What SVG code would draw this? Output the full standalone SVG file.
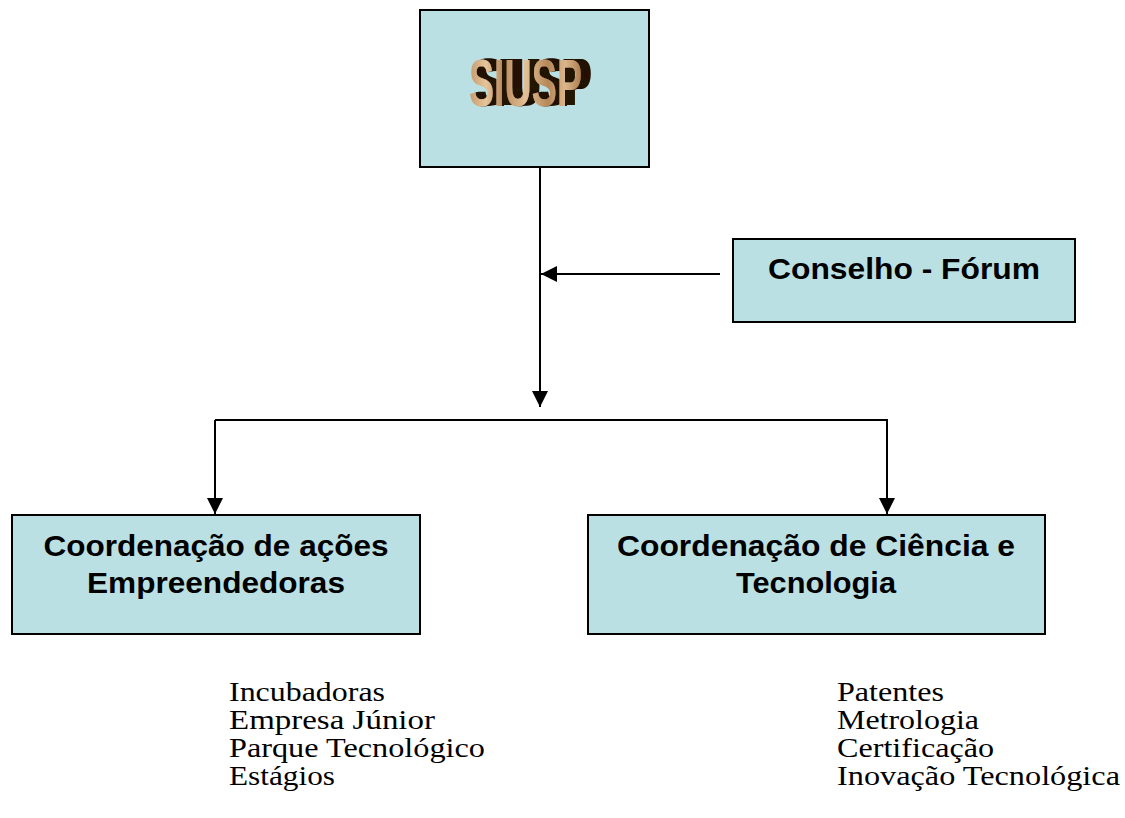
<svg xmlns="http://www.w3.org/2000/svg" width="1125" height="818" viewBox="0 0 1125 818">
<style>
.box{fill:#bbe0e3;stroke:#000;stroke-width:2}
.bt{font-family:"Liberation Sans",Arial,sans-serif;font-weight:bold;font-size:30px;fill:#000;text-anchor:middle}
.lt{font-family:"Liberation Serif","Times New Roman",serif;font-size:27px;fill:#000}
.conn{stroke:#000;stroke-width:2;fill:none}
</style>
<defs>
<marker id="ah" viewBox="0 0 10 10" refX="10" refY="5" markerWidth="16" markerHeight="16" markerUnits="userSpaceOnUse" orient="auto">
<path d="M0,0 L10,5 L0,10 z" fill="#000"/>
</marker>
<linearGradient id="gold" x1="0" y1="0" x2="1" y2="0">
<stop offset="0" stop-color="#c59a6c"/>
<stop offset="0.15" stop-color="#e6c49a"/>
<stop offset="0.3" stop-color="#b98b5e"/>
<stop offset="0.5" stop-color="#e2c096"/>
<stop offset="0.7" stop-color="#b68758"/>
<stop offset="0.85" stop-color="#dcb78c"/>
<stop offset="1" stop-color="#a87a4c"/>
</linearGradient>
<filter id="extrude" x="-10%" y="-20%" width="130%" height="140%">
<feFlood flood-color="#241404" result="c"/>
<feComposite in="c" in2="SourceAlpha" operator="in" result="sh"/>
<feOffset in="sh" dx="2" dy="-0.3" result="s1"/>
<feOffset in="sh" dx="4" dy="-0.6" result="s2"/>
<feOffset in="sh" dx="6" dy="-0.9" result="s3"/>
<feOffset in="sh" dx="8" dy="-1.2" result="s4"/>
<feOffset in="sh" dx="10" dy="-1.5" result="s5"/>
<feMerge>
<feMergeNode in="s5"/><feMergeNode in="s4"/><feMergeNode in="s3"/><feMergeNode in="s2"/><feMergeNode in="s1"/>
<feMergeNode in="SourceGraphic"/>
</feMerge>
</filter>
</defs>
<rect width="1125" height="818" fill="#fff"/>
<g id="connectors">
<line class="conn" x1="540" y1="167" x2="540" y2="407" marker-end="url(#ah)"/>
<line class="conn" x1="720" y1="274" x2="541" y2="274" marker-end="url(#ah)"/>
<polyline class="conn" points="215,420 887,420 887,514" marker-end="url(#ah)"/>
<line class="conn" x1="215" y1="420" x2="215" y2="514" marker-end="url(#ah)"/>
</g>
<g id="siusp">
<rect class="box" x="420" y="10" width="229" height="157"/>
<text x="469" y="106" font-family="'Liberation Sans Narrow','Liberation Sans',Arial,sans-serif" font-weight="bold" font-size="66" fill="url(#gold)" textLength="113" lengthAdjust="spacingAndGlyphs" filter="url(#extrude)">SIUSP</text>
</g>
<g id="conselho">
<rect class="box" x="733" y="239" width="342" height="83"/>
<text class="bt" x="904" y="279" textLength="272" lengthAdjust="spacingAndGlyphs">Conselho - Fórum</text>
</g>
<g id="coord-acoes">
<rect class="box" x="12" y="515" width="408" height="119"/>
<text class="bt" x="216" y="556" textLength="345" lengthAdjust="spacingAndGlyphs">Coordenação de ações</text>
<text class="bt" x="216" y="593" textLength="258" lengthAdjust="spacingAndGlyphs">Empreendedoras</text>
</g>
<g id="coord-ciencia">
<rect class="box" x="588" y="515" width="457" height="119"/>
<text class="bt" x="816" y="556" textLength="398" lengthAdjust="spacingAndGlyphs">Coordenação de Ciência e</text>
<text class="bt" x="816" y="593" textLength="160" lengthAdjust="spacingAndGlyphs">Tecnologia</text>
</g>
<g id="list-left">
<text class="lt" x="229" y="701" textLength="156" lengthAdjust="spacingAndGlyphs">Incubadoras</text>
<text class="lt" x="229" y="729" textLength="206" lengthAdjust="spacingAndGlyphs">Empresa Júnior</text>
<text class="lt" x="229" y="757" textLength="256" lengthAdjust="spacingAndGlyphs">Parque Tecnológico</text>
<text class="lt" x="229" y="785" textLength="106" lengthAdjust="spacingAndGlyphs">Estágios</text>
</g>
<g id="list-right">
<text class="lt" x="837" y="701" textLength="107" lengthAdjust="spacingAndGlyphs">Patentes</text>
<text class="lt" x="837" y="729" textLength="142" lengthAdjust="spacingAndGlyphs">Metrologia</text>
<text class="lt" x="837" y="757" textLength="157" lengthAdjust="spacingAndGlyphs">Certificação</text>
<text class="lt" x="837" y="785" textLength="283" lengthAdjust="spacingAndGlyphs">Inovação Tecnológica</text>
</g>
</svg>
